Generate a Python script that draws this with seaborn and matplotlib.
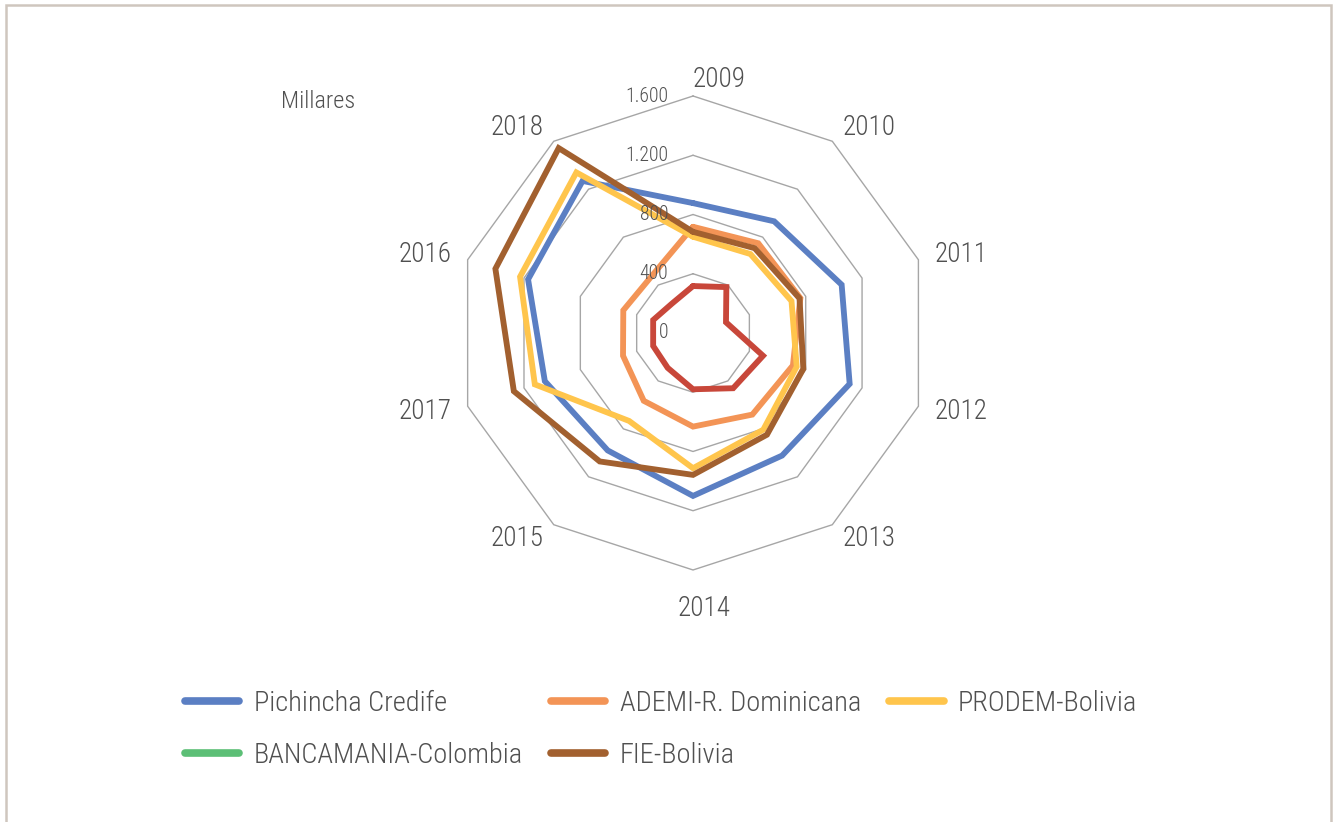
import numpy as np
import pandas as pd
import matplotlib
matplotlib.use("Agg")
import matplotlib.pyplot as plt
import seaborn as sns
from matplotlib import font_manager as fm
from matplotlib.lines import Line2D
from matplotlib.patches import Rectangle

# ---------------- data ----------------
years = ["2009", "2010", "2011", "2012", "2013", "2014", "2015", "2017", "2016", "2018"]
pichincha = [877, 932, 1055, 1112, 1023, 1100, 980, 1052, 1171, 1269]
ademi = [717, 749, 762, 709, 681, 632, 566, 497, 495, 475]
prodem = [650, 659, 699, 736, 807, 913, 734, 1123, 1228, 1340]
fie = [683, 708, 756, 783, 849, 958, 1072, 1272, 1403, 1543]
otra = [317, 383, 234, 497, 461, 380, 291, 283, 283, 244]   # red series, not in legend
series_names = ["Pichincha Credife", "ADEMI-R. Dominicana", "PRODEM-Bolivia",
                "BANCAMANIA-Colombia", "FIE-Bolivia"]
r_ticks = [0, 400, 800, 1200, 1600]
r_tick_labels = ["0", "400", "800", "1.200", "1.600"]

colors = {"Pichincha Credife": "#5B7FC3", "ADEMI-R. Dominicana": "#F39456",
          "PRODEM-Bolivia": "#FFC54C", "BANCAMANIA-Colombia": "#5CBF76",
          "FIE-Bolivia": "#A2602F", "Otra": "#C8473A"}

sns.set_theme(style="white")
avail = {f.name for f in fm.fontManager.ttflist}
cands = ["Roboto Condensed", "Liberation Sans Narrow", "Open Sans Condensed", "Lato", "Roboto"]
font = next((c for c in cands if c in avail), "DejaVu Sans")
plt.rcParams["font.family"] = [font, "DejaVu Sans"]
plt.rcParams["font.weight"] = "light"
txt_color = "#505050"

n = len(years)
theta = np.arange(n) * 2 * np.pi / n
theta_closed = np.append(theta, 2 * np.pi)

rows = []
for name, vals in [("Pichincha Credife", pichincha), ("ADEMI-R. Dominicana", ademi),
                   ("PRODEM-Bolivia", prodem), ("FIE-Bolivia", fie), ("Otra", otra)]:
    closed = list(vals) + [vals[0]]
    for t, v in zip(theta_closed, closed):
        rows.append({"serie": name, "theta": t, "valor": v})
df = pd.DataFrame(rows)

fig = plt.figure(figsize=(13.33, 8.22), dpi=100)
ax = fig.add_axes([0.3421, 0.3066, 0.3556, 0.5766], projection="polar")
ax.set_theta_offset(np.pi / 2)
ax.set_theta_direction(-1)
ax.grid(False)
ax.set_xticks([])
ax.set_yticks([])
ax.spines["polar"].set_visible(False)
ax.set_facecolor("none")

# decagon gridlines
for r in r_ticks[1:]:
    ax.plot(theta_closed, [r] * (n + 1), color="#A6A6A6", lw=1.0, zorder=0, clip_on=False)

order = ["Pichincha Credife", "ADEMI-R. Dominicana", "PRODEM-Bolivia", "FIE-Bolivia", "Otra"]
sns.lineplot(data=df, x="theta", y="valor", hue="serie", hue_order=order,
             palette=colors, sort=False, estimator=None, linewidth=4.2,
             legend=False, ax=ax, zorder=3)
for ln in ax.lines:
    ln.set_solid_joinstyle("miter")
    ln.set_clip_on(False)
ax.set_ylim(0, 1600)
ax.set_xlabel("")
ax.set_ylabel("")

# radial tick labels
for r, lab in zip(r_ticks, r_tick_labels):
    ax.annotate(lab, xy=(0, r), xytext=(-25, 0), textcoords="offset pixels",
                ha="right", va="center", fontsize=14.2, color=txt_color)

# category labels (Excel-like placement: left side right-aligned, right side left-aligned)
gap = 17
for t, y in zip(theta, years):
    s, c = np.sin(t), np.cos(t)
    if c < -0.99:
        ha, va, dx, dy = "center", "top", 11, -8
    elif s >= -1e-6:
        ha, va, dx, dy = "left", "center", 0, 0
    else:
        ha, va, dx, dy = "right", "center", 0, 0
    ax.annotate(y, xy=(t, r_ticks[-1]), xytext=(gap * s + dx, gap * c + dy),
                textcoords="offset pixels", ha=ha, va=va, fontsize=19.5,
                color=txt_color, annotation_clip=False)

fig.text(318 / 1333, 1 - 101 / 822, "Millares", ha="center", va="center", fontsize=17.5,
         color=txt_color)

# legend (row-major appearance with 3 columns)
handles = {name: Line2D([0], [0], color=colors[name], lw=5.5, solid_capstyle="round")
           for name in series_names}
leg_order = ["Pichincha Credife", "BANCAMANIA-Colombia", "ADEMI-R. Dominicana",
             "FIE-Bolivia", "PRODEM-Bolivia"]
leg = fig.legend([handles[k] for k in leg_order], leg_order, ncol=3, loc="upper left",
                 bbox_to_anchor=(171 / 1333, 1 - 676 / 822), frameon=False, borderpad=0,
                 fontsize=20.5, handlelength=1.9, handletextpad=0.5, columnspacing=1.0,
                 labelspacing=0.87, labelcolor=txt_color)

fig.patches.append(Rectangle((6 / 1333, -0.05), (1331 - 6) / 1333, 1 - 5 / 822 + 0.05,
                             transform=fig.transFigure, fill=False, edgecolor="#CFC6BE",
                             lw=1.8, clip_on=False))
fig.savefig("out.png", dpi=100)
